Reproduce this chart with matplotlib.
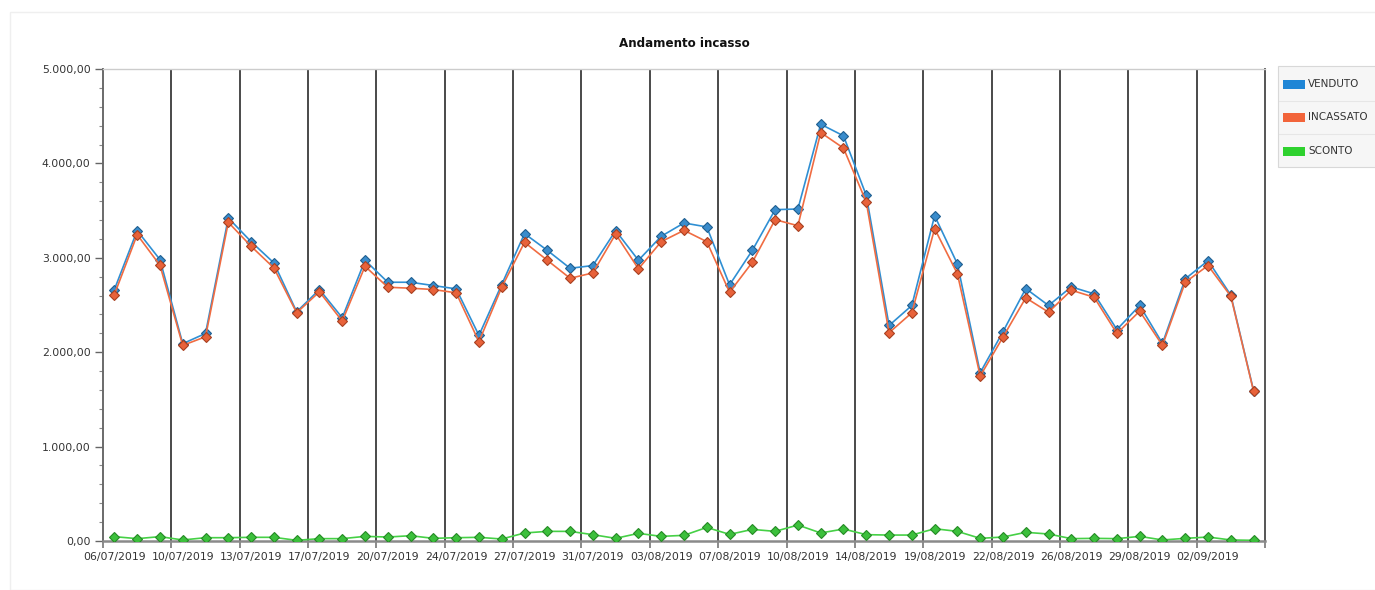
import matplotlib
matplotlib.use("Agg")
import matplotlib.pyplot as plt
from matplotlib.patches import Rectangle
from matplotlib.lines import Line2D
from matplotlib.ticker import FixedLocator, FuncFormatter, MultipleLocator

dates = [
    "06/07/2019", "08/07/2019", "09/07/2019", "10/07/2019", "11/07/2019", "12/07/2019",
    "13/07/2019", "15/07/2019", "16/07/2019", "17/07/2019", "18/07/2019", "19/07/2019",
    "20/07/2019", "22/07/2019", "23/07/2019", "24/07/2019", "25/07/2019", "26/07/2019",
    "27/07/2019", "29/07/2019", "30/07/2019", "31/07/2019", "01/08/2019", "02/08/2019",
    "03/08/2019", "05/08/2019", "06/08/2019", "07/08/2019", "08/08/2019", "09/08/2019",
    "10/08/2019", "12/08/2019", "13/08/2019", "14/08/2019", "16/08/2019", "17/08/2019",
    "19/08/2019", "20/08/2019", "21/08/2019", "22/08/2019", "23/08/2019", "24/08/2019",
    "26/08/2019", "27/08/2019", "28/08/2019", "29/08/2019", "30/08/2019", "31/08/2019",
    "02/09/2019", "03/09/2019", "04/09/2019",
]

venduto = [
    2664, 3288, 2981, 2090, 2199, 3422, 3171, 2946, 2428, 2664,
    2365, 2974, 2741, 2741, 2706, 2671, 2178, 2717, 3256, 3079,
    2889, 2918, 3288, 2974, 3228, 3369, 3327, 2713, 3079, 3510,
    3517, 4415, 4292, 3661, 2283, 2495, 3446, 2935, 1783, 2217,
    2674, 2495, 2692, 2618, 2240, 2495, 2093, 2777, 2970, 2604,
    1592,
]

incassato = [
    2611, 3245, 2921, 2072, 2164, 3376, 3122, 2893, 2418, 2640,
    2329, 2910, 2688, 2678, 2664, 2629, 2111, 2688, 3164, 2974,
    2783, 2840, 3252, 2883, 3171, 3291, 3171, 2635, 2953, 3404,
    3340, 4327, 4162, 3591, 2206, 2418, 3309, 2830, 1747, 2160,
    2576, 2424, 2657, 2582, 2199, 2435, 2072, 2741, 2918, 2593,
    1585,
]

sconto = [
    46, 25, 46, 11, 35, 35, 39, 39, 7, 25,
    25, 49, 42, 56, 28, 35, 39, 21, 85, 102,
    102, 67, 28, 81, 49, 60, 144, 70, 123, 102,
    169, 85, 127, 67, 63, 63, 130, 102, 28, 42,
    92, 74, 25, 28, 25, 49, 11, 28, 42, 11,
    7,
]

series_names = ["VENDUTO", "INCASSATO", "SCONTO"]
line_colors = ["#2f8fd3", "#f06c42", "#46d046"]
marker_faces = ["#3a8ccc", "#e8623a", "#3cc03c"]
marker_edges = ["#1f5f90", "#a84020", "#258a25"]
patch_colors = ["#1f86d6", "#f2643a", "#2ed12e"]

plt.rcParams["font.family"] = ["DejaVu Sans"]

W, H = 1375, 590
fig = plt.figure(figsize=(W / 100, H / 100), dpi=100)
fig.patch.set_facecolor("white")


def fx(px):
    return px / W


def fy(py):
    return 1 - py / H


# faint outer frame of the panel
fig.add_artist(Rectangle((fx(10), 0), 1.0, fy(12), transform=fig.transFigure,
                         fill=False, edgecolor="#efefef", linewidth=1.0))

ax = fig.add_axes([fx(103), fy(541), fx(1265 - 103), (541 - 69) / H])

x = list(range(len(dates)))
for vals, name, lc, mf, me in zip([venduto, incassato, sconto], series_names,
                                   line_colors, marker_faces, marker_edges):
    ax.plot(x, vals, color=lc, linewidth=1.2, marker="D", markersize=5.4,
            markerfacecolor=mf, markeredgecolor=me, markeredgewidth=0.8,
            label=name, zorder=3)

n = len(dates)
ax.set_xlim(-0.5, n - 0.5)
ax.set_ylim(0, 5000)

# major x ticks at category boundaries every 3 categories (grid lines)
bounds = [i - 0.5 for i in range(0, n + 1, 3)]
ax.xaxis.set_major_locator(FixedLocator(bounds))
ax.xaxis.set_major_formatter(FuncFormatter(lambda v, p: ""))
label_pos = list(range(0, n, 3))
ax.xaxis.set_minor_locator(FixedLocator(label_pos))
ax.xaxis.set_minor_formatter(FuncFormatter(lambda v, p: dates[int(round(v))]))
ax.tick_params(axis="x", which="major", length=5, width=1.2, color="#777777")
ax.tick_params(axis="x", which="minor", length=0, pad=8, labelsize=7.8, labelcolor="#333333")

for b in bounds[1:-1]:
    ax.axvline(b, color="#4a4a4a", linewidth=1.4, zorder=1)


def it_fmt(v, p):
    s = f"{v:,.2f}"
    return s.replace(",", "X").replace(".", ",").replace("X", ".")


ax.yaxis.set_major_locator(MultipleLocator(1000))
ax.yaxis.set_minor_locator(MultipleLocator(200))
ax.yaxis.set_major_formatter(FuncFormatter(it_fmt))
ax.tick_params(axis="y", which="major", length=6, width=1.0, color="#666666",
               labelsize=7.8, labelcolor="#333333", pad=3)
ax.tick_params(axis="y", which="minor", length=3, width=0.8, color="#888888")

ax.spines["left"].set_color("#6a6a6a")
ax.spines["left"].set_linewidth(1.4)
ax.spines["bottom"].set_color("#8a8a8a")
ax.spines["bottom"].set_linewidth(1.8)
ax.spines["top"].set_color("#cccccc")
ax.spines["top"].set_linewidth(1.0)
ax.spines["right"].set_color("#555555")
ax.spines["right"].set_linewidth(1.4)

ax.set_title("Andamento incasso", fontsize=8.6, fontweight="bold", color="#111111", pad=16)

# legend box outside the plot, on the right
box_left, box_top, box_bottom = 1278, 66, 167
fig.add_artist(Rectangle((fx(box_left), fy(box_bottom)), fx(W + 10 - box_left),
                         (box_bottom - box_top) / H, transform=fig.transFigure,
                         facecolor="#f6f6f6", edgecolor="#d8d8d8", linewidth=0.8))
entry_y = [84, 117, 151]
for sep in [100.5, 134]:
    fig.add_artist(Line2D([fx(box_left + 1), fx(W)], [fy(sep), fy(sep)],
                          transform=fig.transFigure, color="#e6e6e6", linewidth=0.8))
for name, c, ey in zip(series_names, patch_colors, entry_y):
    fig.add_artist(Rectangle((fx(1283), fy(ey + 4.5)), fx(22), 9 / H,
                             transform=fig.transFigure, facecolor=c, edgecolor="none"))
    fig.text(fx(1308), fy(ey), name, fontsize=7.5, color="#333333",
             ha="left", va="center")

fig.savefig("out.png", dpi=100)
